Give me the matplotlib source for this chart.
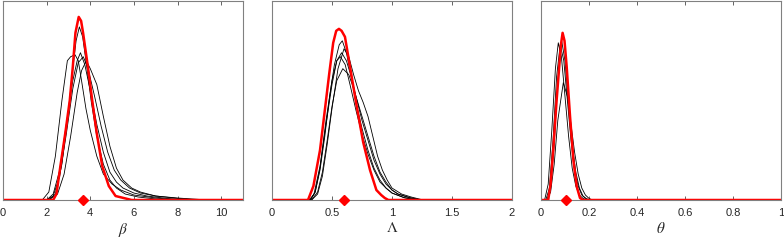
import matplotlib
matplotlib.use('Agg')
import matplotlib.pyplot as plt

# posterior density curves, heights as fraction of the axes height
beta_red_x = [0, 2.3, 2.45, 2.63, 2.86, 3.06, 3.2, 3.32, 3.47, 3.58, 3.67, 3.89, 4.09, 4.29, 4.55, 4.85, 5.16, 5.53, 5.9, 11]
beta_red_y = [0, 0, 0.03, 0.17, 0.34, 0.5, 0.67, 0.84, 0.92, 0.90, 0.84, 0.67, 0.5, 0.34, 0.17, 0.07, 0.02, 0.01, 0, 0]
beta_black = [
    ([0, 2.1, 2.4, 2.7, 3.0, 3.2, 3.35, 3.5, 3.65, 3.85, 4.05, 4.3, 4.6, 4.9, 5.2, 5.6, 6.2, 7.0, 8.0, 11],
     [0, 0, 0.03, 0.18, 0.45, 0.66, 0.80, 0.87, 0.82, 0.66, 0.49, 0.32, 0.18, 0.10, 0.06, 0.03, 0.015, 0.005, 0, 0]),
    ([0, 2.0, 2.3, 2.6, 2.9, 3.2, 3.4, 3.55, 3.75, 4.0, 4.3, 4.6, 4.9, 5.2, 5.5, 6.0, 6.6, 7.5, 8.5, 11],
     [0, 0, 0.03, 0.15, 0.38, 0.60, 0.70, 0.74, 0.68, 0.55, 0.38, 0.24, 0.14, 0.09, 0.06, 0.035, 0.02, 0.008, 0, 0]),
    ([0, 1.8, 2.1, 2.4, 2.7, 2.95, 3.1, 3.3, 3.45, 3.6, 3.8, 4.0, 4.3, 4.6, 5.0, 5.4, 6.0, 7.0, 8.0, 11],
     [0, 0, 0.04, 0.22, 0.50, 0.70, 0.72, 0.73, 0.70, 0.60, 0.46, 0.35, 0.22, 0.13, 0.08, 0.05, 0.025, 0.01, 0, 0]),
    ([0, 2.1, 2.5, 2.8, 3.1, 3.4, 3.6, 3.82, 4.0, 4.3, 4.6, 4.9, 5.2, 5.5, 5.9, 6.3, 7.0, 8.0, 9.4, 11],
     [0, 0, 0.03, 0.13, 0.32, 0.54, 0.65, 0.70, 0.66, 0.58, 0.42, 0.27, 0.16, 0.10, 0.06, 0.04, 0.02, 0.01, 0, 0]),
    ([0, 2.0, 2.3, 2.6, 2.9, 3.2, 3.45, 3.68, 3.9, 4.2, 4.5, 4.8, 5.1, 5.4, 5.8, 6.3, 7.0, 8.0, 9.0, 11],
     [0, 0, 0.02, 0.12, 0.33, 0.56, 0.69, 0.72, 0.66, 0.52, 0.37, 0.24, 0.15, 0.10, 0.06, 0.035, 0.02, 0.008, 0, 0]),
]
beta_true = 3.65

lam_red_x = [0, 0.30, 0.345, 0.40, 0.44, 0.478, 0.51, 0.535, 0.558, 0.58, 0.608, 0.65, 0.706, 0.76, 0.817, 0.87, 0.91, 0.94, 0.97, 2]
lam_red_y = [0, 0, 0.07, 0.25, 0.45, 0.64, 0.79, 0.85, 0.86, 0.85, 0.82, 0.67, 0.47, 0.29, 0.15, 0.05, 0.025, 0.01, 0, 0]
lam_black = [
    ([0, 0.32, 0.36, 0.40, 0.44, 0.48, 0.52, 0.56, 0.586, 0.62, 0.66, 0.70, 0.75, 0.80, 0.85, 0.90, 0.95, 1.0, 1.1, 1.2, 2],
     [0, 0, 0.04, 0.15, 0.32, 0.52, 0.68, 0.78, 0.80, 0.74, 0.62, 0.49, 0.36, 0.25, 0.16, 0.10, 0.06, 0.035, 0.012, 0, 0]),
    ([0, 0.31, 0.35, 0.40, 0.45, 0.50, 0.54, 0.58, 0.62, 0.66, 0.70, 0.75, 0.80, 0.85, 0.90, 0.95, 1.0, 1.05, 1.15, 1.25, 2],
     [0, 0, 0.03, 0.17, 0.38, 0.58, 0.70, 0.74, 0.70, 0.62, 0.52, 0.40, 0.30, 0.20, 0.13, 0.08, 0.05, 0.03, 0.012, 0, 0]),
    ([0, 0.33, 0.38, 0.42, 0.46, 0.50, 0.54, 0.59, 0.64, 0.68, 0.72, 0.76, 0.80, 0.85, 0.90, 0.95, 1.0, 1.05, 1.15, 1.25, 2],
     [0, 0, 0.04, 0.14, 0.30, 0.47, 0.60, 0.66, 0.63, 0.56, 0.48, 0.40, 0.32, 0.22, 0.14, 0.09, 0.05, 0.03, 0.01, 0, 0]),
    ([0, 0.33, 0.38, 0.42, 0.46, 0.50, 0.55, 0.60, 0.64, 0.68, 0.72, 0.76, 0.80, 0.84, 0.88, 0.92, 0.96, 1.0, 1.08, 1.16, 1.26, 2],
     [0, 0, 0.03, 0.12, 0.28, 0.46, 0.66, 0.76, 0.72, 0.63, 0.55, 0.49, 0.42, 0.32, 0.22, 0.15, 0.10, 0.06, 0.03, 0.015, 0, 0]),
    ([0, 0.32, 0.36, 0.40, 0.45, 0.50, 0.54, 0.57, 0.61, 0.65, 0.70, 0.75, 0.80, 0.85, 0.90, 0.95, 1.0, 1.1, 1.2, 2],
     [0, 0, 0.04, 0.16, 0.40, 0.60, 0.70, 0.72, 0.68, 0.58, 0.45, 0.33, 0.23, 0.15, 0.09, 0.06, 0.035, 0.012, 0, 0]),
]
lam_true = 0.603

theta_red_x = [0, 0.03, 0.04, 0.051, 0.065, 0.076, 0.083, 0.09, 0.098, 0.107, 0.121, 0.135, 0.149, 0.1625, 0.175, 1]
theta_red_y = [0, 0, 0.08, 0.25, 0.5, 0.67, 0.78, 0.84, 0.80, 0.67, 0.42, 0.2, 0.067, 0.01, 0, 0]
theta_black = [
    ([0, 0.015, 0.03, 0.045, 0.06, 0.072, 0.085, 0.10, 0.115, 0.13, 0.145, 0.16, 0.175, 0.19, 1],
     [0, 0, 0.08, 0.35, 0.66, 0.79, 0.72, 0.52, 0.32, 0.16, 0.07, 0.025, 0.008, 0, 0]),
    ([0, 0.025, 0.04, 0.055, 0.07, 0.086, 0.10, 0.115, 0.13, 0.145, 0.16, 0.175, 0.19, 0.205, 1],
     [0, 0, 0.06, 0.28, 0.60, 0.80, 0.70, 0.48, 0.28, 0.14, 0.06, 0.02, 0.006, 0, 0]),
    ([0, 0.025, 0.04, 0.055, 0.07, 0.093, 0.11, 0.125, 0.14, 0.155, 0.17, 0.185, 0.20, 0.215, 1],
     [0, 0, 0.04, 0.18, 0.40, 0.59, 0.52, 0.38, 0.24, 0.13, 0.06, 0.025, 0.008, 0, 0]),
    ([0, 0.02, 0.035, 0.05, 0.065, 0.08, 0.095, 0.11, 0.125, 0.14, 0.155, 0.17, 0.185, 0.20, 1],
     [0, 0, 0.06, 0.30, 0.62, 0.78, 0.70, 0.50, 0.30, 0.15, 0.07, 0.025, 0.008, 0, 0]),
]
theta_true = 0.103

panels = [
    (beta_black, beta_red_x, beta_red_y, beta_true, (0, 11), [0, 2, 4, 6, 8, 10], ['0', '2', '4', '6', '8', '10'], r'$\beta$'),
    (lam_black, lam_red_x, lam_red_y, lam_true, (0, 2), [0, 0.5, 1, 1.5, 2], ['0', '0.5', '1', '1.5', '2'], r'$\Lambda$'),
    (theta_black, theta_red_x, theta_red_y, theta_true, (0, 1), [0, 0.2, 0.4, 0.6, 0.8, 1], ['0', '0.2', '0.4', '0.6', '0.8', '1'], r'$\theta$'),
]
lefts = [3 / 784, 272 / 784, 541 / 784]

plt.rcParams['font.family'] = ['Liberation Sans', 'DejaVu Sans']
plt.rcParams['mathtext.fontset'] = 'stix'
fig = plt.figure(figsize=(7.84, 2.41), dpi=100)

for left, (black, rx, ry, true_val, xlim, ticks, labels, xlabel) in zip(lefts, panels):
    ax = fig.add_axes([left, 41 / 241, 240 / 784, 199 / 241])
    for bx, by in black:
        ax.plot(bx, by, color='black', lw=0.6)
    ax.plot(rx, ry, color='#ff0000', lw=1.8)
    ax.plot([true_val], [0], marker='D', color='#ff0000', ms=5, clip_on=False, zorder=5)
    ax.set_xlim(*xlim)
    ax.set_ylim(0, 1)
    ax.set_xticks(ticks)
    ax.set_xticklabels(labels)
    ax.set_yticks([])
    ax.tick_params(axis='x', direction='in', top=True, length=3, width=0.5,
                   labelsize=8, colors='#262626', pad=6)
    for sp in ax.spines.values():
        sp.set_color('#808080')
        sp.set_linewidth(0.8)
    ax.set_xlabel(xlabel, fontsize=11, labelpad=2, color='#262626')

fig.savefig('out.png', dpi=100)
